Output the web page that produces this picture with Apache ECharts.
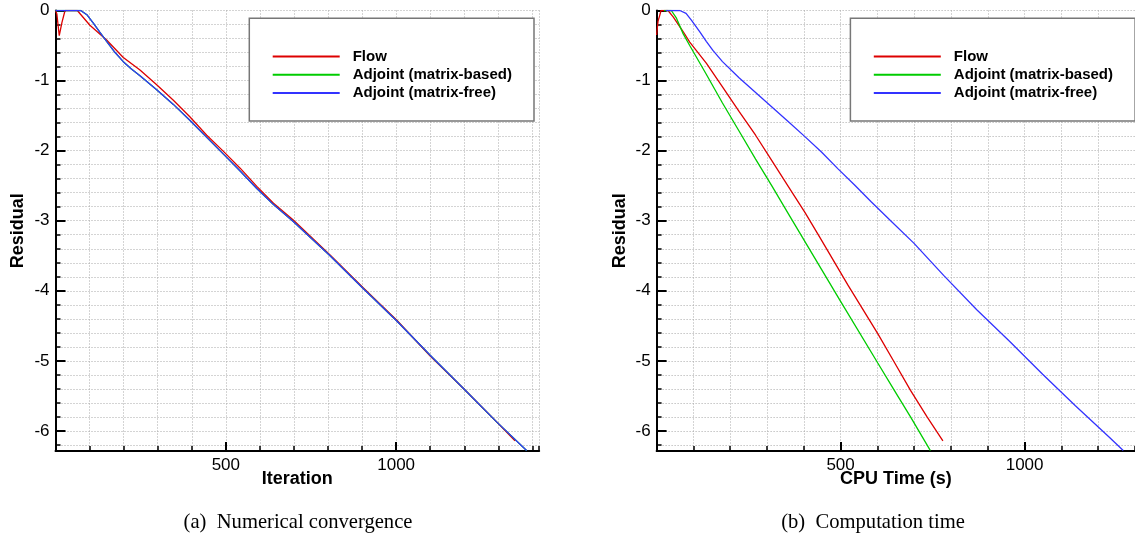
<!DOCTYPE html>
<html>
<head>
<meta charset="utf-8">
<script src="https://cdn.jsdelivr.net/npm/echarts@6/dist/echarts.min.js"></script>
<style>
  html, body { margin: 0; padding: 0; background: #fff; }
  #chart { width: 1135px; height: 540px; }
</style>
</head>
<body>
<div id="chart"></div>
<script>
// (a) residual vs iteration
const flowIter = [0, 4, 11, 19, 28, 64, 101, 150, 199, 248, 297, 346, 395, 444, 493, 542, 591, 640, 698, 806, 904, 1002, 1100, 1197, 1295, 1349];
const flowIterRes = [0, -0.05, -0.36, -0.17, 0, 0, -0.21, -0.42, -0.67, -0.85, -1.06, -1.28, -1.52, -1.78, -2.01, -2.25, -2.51, -2.75, -2.99, -3.49, -3.96, -4.42, -4.93, -5.39, -5.87, -6.14];
const mbIter = [0, 74, 92, 111, 130, 150, 175, 199, 222, 248, 297, 346, 395, 444, 493, 542, 591, 640, 698, 806, 904, 1002, 1100, 1197, 1295, 1383];
const mbIterRes = [0, 0, -0.06, -0.18, -0.31, -0.44, -0.60, -0.73, -0.83, -0.93, -1.13, -1.34, -1.57, -1.81, -2.05, -2.29, -2.54, -2.77, -3.01, -3.50, -3.97, -4.43, -4.92, -5.39, -5.87, -6.28];
const mfIter = mbIter;
const mfIterRes = mbIterRes;

// (b) residual vs cpu time
const flowTime = [0, 4, 8, 12, 31, 45, 72, 90, 135, 179, 224, 269, 314, 359, 403, 444, 520, 601, 646, 690, 735, 778];
const flowTimeRes = [-0.35, -0.15, -0.08, 0, 0, -0.09, -0.30, -0.45, -0.75, -1.09, -1.44, -1.78, -2.15, -2.52, -2.88, -3.24, -3.92, -4.61, -5.02, -5.42, -5.80, -6.14];
const mbTime = [20, 40, 54, 72, 90, 135, 179, 224, 269, 314, 359, 408, 500, 601, 646, 690, 744];
const mbTimeRes = [0, 0, -0.11, -0.33, -0.50, -0.91, -1.32, -1.72, -2.12, -2.51, -2.91, -3.34, -4.15, -5.03, -5.42, -5.80, -6.28];
const mfTime = [25, 63, 80, 95, 117, 135, 153, 179, 224, 269, 314, 359, 403, 448, 493, 538, 583, 636, 699, 780, 870, 959, 1049, 1138, 1228, 1268];
const mfTimeRes = [0, 0, -0.04, -0.14, -0.30, -0.44, -0.57, -0.73, -0.96, -1.17, -1.38, -1.59, -1.80, -2.02, -2.26, -2.49, -2.73, -3.00, -3.32, -3.78, -4.27, -4.72, -5.19, -5.64, -6.08, -6.28];

const names = ['Flow', 'Adjoint (matrix-based)', 'Adjoint (matrix-free)'];
const colors = ['#dd0000', '#00cc00', '#3333ff'];
const resLabels = [0, -1, -2, -3, -4, -5, -6];
const xLabels = [500, 1000];

const Y_MIN = -6.286;
const SANS = '"Liberation Sans", Arial, sans-serif';
const SERIF = '"Liberation Serif", "Times New Roman", serif';

const pairs = (xs, ys) => xs.map((x, i) => [x, ys[i]]);

const grids = [
  { left: 55.5, top: 10.5, width: 483.7, height: 440.5 },
  { left: 656.6, top: 10.5, width: 483.6, height: 440.5 },
];
const xMax = [1420, 1300];
const xNames = ['Iteration', 'CPU Time (s)'];

const dotted = { show: true, lineStyle: { color: '#a8a8a8', type: [1, 2], width: 1 } };

const xAxis = [];
const yAxis = [];
grids.forEach((g, i) => {
  // main axis: line, labels and long ticks
  xAxis.push({
    type: 'value', gridIndex: i, position: 'bottom', min: 0, max: xMax[i],
    name: xNames[i], nameLocation: 'middle', nameGap: 19, nameMoveOverlap: false,
    nameTextStyle: { fontFamily: SANS, fontSize: 18, fontWeight: 'bold', color: '#000' },
    axisLine: { onZero: false, lineStyle: { color: '#000', width: 2 } },
    axisTick: { customValues: xLabels, inside: true, length: 9, lineStyle: { color: '#000', width: 2 } },
    axisLabel: { customValues: xLabels, margin: 6, fontFamily: SANS, fontSize: 17, color: '#000', formatter: (v) => String(v) },
    splitLine: { show: false },
  });
  // minor ticks and dotted grid
  xAxis.push({
    type: 'value', gridIndex: i, position: 'bottom', offset: 0, min: 0, max: xMax[i], interval: 100,
    axisLine: { show: false, onZero: false },
    axisTick: { inside: true, length: 5, lineStyle: { color: '#000', width: 1.5 } },
    axisLabel: { show: false },
    splitLine: dotted,
  });
  yAxis.push({
    type: 'value', gridIndex: i, position: 'left', min: Y_MIN, max: 0,
    name: 'Residual', nameLocation: 'middle', nameGap: 28, nameMoveOverlap: false,
    nameTextStyle: { fontFamily: SANS, fontSize: 18, fontWeight: 'bold', color: '#000' },
    axisLine: { onZero: false, lineStyle: { color: '#000', width: 2 } },
    axisTick: { customValues: resLabels, inside: true, length: 10, lineStyle: { color: '#000', width: 2 } },
    axisLabel: { customValues: resLabels, margin: 6, fontFamily: SANS, fontSize: 17, color: '#000' },
    splitLine: { show: false },
  });
  // inverse copy so the 0.2 steps start from 0 at the top
  yAxis.push({
    type: 'value', gridIndex: i, position: 'left', offset: 0, min: 0, max: -Y_MIN, inverse: true, interval: 0.2,
    axisLine: { show: false, onZero: false },
    axisTick: { inside: true, length: 5, lineStyle: { color: '#000', width: 1.5 } },
    axisLabel: { show: false },
    splitLine: dotted,
  });
});

const panelData = [
  [pairs(flowIter, flowIterRes), pairs(mbIter, mbIterRes), pairs(mfIter, mfIterRes)],
  [pairs(flowTime, flowTimeRes), pairs(mbTime, mbTimeRes), pairs(mfTime, mfTimeRes)],
];

const series = [];
panelData.forEach((sets, p) => {
  sets.forEach((d, k) => {
    series.push({
      type: 'line', name: names[k], data: d,
      xAxisIndex: p * 2, yAxisIndex: p * 2,
      symbol: 'none', showSymbol: false,
      lineStyle: { color: colors[k], width: 1.3 },
      itemStyle: { color: colors[k] },
      z: 2,
    });
  });
});

const legend = grids.map((g) => ({
  orient: 'vertical',
  left: g.left + 217.2, top: 49,
  padding: 0,
  icon: 'rect',
  itemWidth: 67, itemHeight: 2, itemGap: 3.3,
  data: names,
  selectedMode: false,
  textStyle: { fontFamily: SANS, fontSize: 15, fontWeight: 'bold', color: '#000', padding: [0, 0, 0, 8] },
  z: 50,
}));

const graphic = [
  ...grids.map((g) => ({
    type: 'rect', z: 10,
    shape: { x: g.left + 193.8, y: 18.3, width: 284.7, height: 102.7 },
    style: { fill: '#fff', stroke: '#777', lineWidth: 1.5 },
  })),
  { type: 'text', x: 298, y: 523, z: 10,
    style: { text: '(a)  Numerical convergence', font: '20.6px ' + SERIF, fill: '#000', textAlign: 'center', textVerticalAlign: 'middle' } },
  { type: 'text', x: 873, y: 523, z: 10,
    style: { text: '(b)  Computation time', font: '20.6px ' + SERIF, fill: '#000', textAlign: 'center', textVerticalAlign: 'middle' } },
];

const chart = echarts.init(document.getElementById('chart'));
chart.setOption({
  animation: false,
  backgroundColor: '#fff',
  grid: grids,
  xAxis: xAxis,
  yAxis: yAxis,
  legend: legend,
  graphic: graphic,
  series: series,
});
</script>
</body>
</html>
